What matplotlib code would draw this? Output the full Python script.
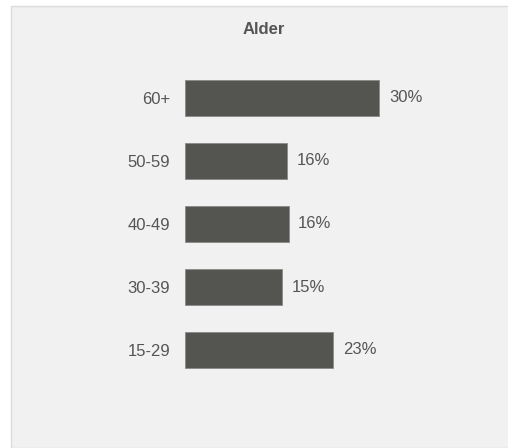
import matplotlib
matplotlib.use("Agg")
import matplotlib.pyplot as plt
from matplotlib.patches import Rectangle

# age groups, bottom to top
groups = ["15-29", "30-39", "40-49", "50-59", "60+"]
shares = [22.9, 15.0, 16.0, 15.8, 30.0]
labels = ["23%", "15%", "16%", "16%", "30%"]

W, H = 508, 448
plt.rcParams['font.family'] = ['Liberation Sans', 'DejaVu Sans']
txt = '#555555'

fig = plt.figure(figsize=(W / 100, H / 100), dpi=100)
fig.patch.set_facecolor('white')

# grey panel with thin border (behind the axes)
fig.patches.append(Rectangle((11 / W, 0), 1, 1 - 6 / H, transform=fig.transFigure,
                             facecolor='#f1f1f1', edgecolor='#dcdcdc', linewidth=1,
                             zorder=-1))

fig.text(264 / W, 1 - 29 / H, "Alder", ha='center', va='center',
         fontsize=12, fontweight='bold', color=txt)

ax = fig.add_axes([185 / W, 1 - 381.5 / H, 258.8 / W, 315 / H])
ax.set_facecolor('none')
ax.barh(groups, shares, height=0.57, color='#545551', edgecolor='#8a8a88', linewidth=0.6)
ax.set_xlim(0, 40)
ax.set_ylim(-0.5, len(groups) - 0.5)

for i, (v, lab) in enumerate(zip(shares, labels)):
    ax.annotate(lab, (v, i), xytext=(7, 0), textcoords='offset points',
                ha='left', va='center', fontsize=12, color=txt)

ax.tick_params(axis='y', length=0, pad=10.5, labelsize=12, labelcolor=txt)
ax.set_xticks([])
for s in ax.spines.values():
    s.set_visible(False)

fig.savefig("out.png", dpi=100)
